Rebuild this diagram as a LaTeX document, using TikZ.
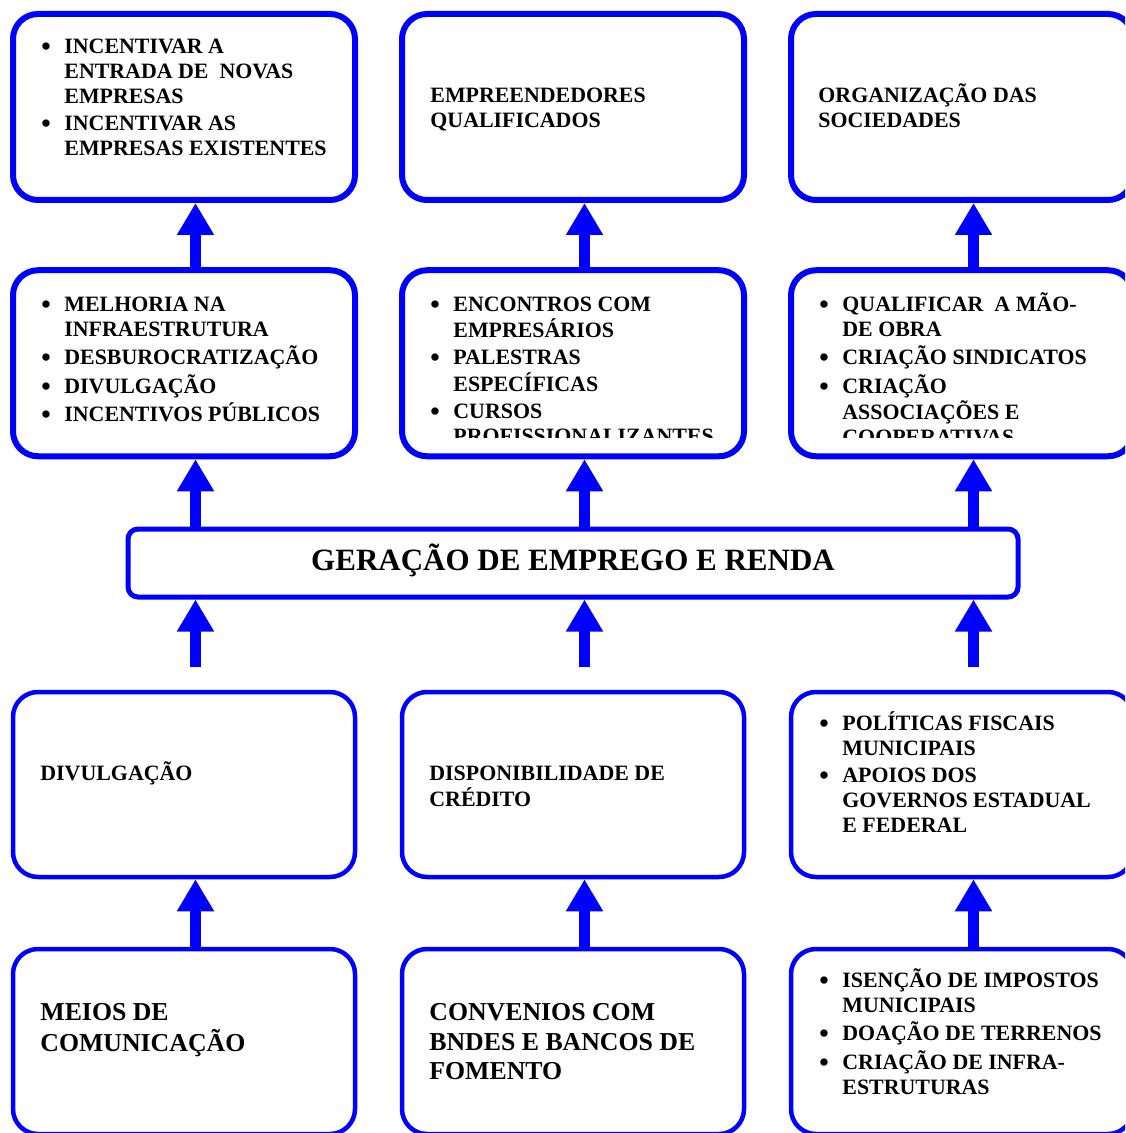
\documentclass[tikz,border=0pt]{standalone}
\usepackage{fontspec}
\setmainfont{Liberation Serif}
\usetikzlibrary{arrows.meta}

\newcommand{\blist}[1]{\begin{tabular}[t]{@{}p{11.5pt}@{}l@{}}#1\end{tabular}}
\newcommand{\tlines}[1]{\begin{tabular}[t]{@{}l@{}}#1\end{tabular}}
\newcommand{\bu}{\raisebox{-1pt}{\fontsize{13.5}{12.5}\selectfont\textbullet}}

\tikzset{
  box/.style={draw=blue,line width=3pt,rounded corners=12.5pt,minimum width=171pt,minimum height=93pt,inner sep=0pt},
  lbox/.style={box,line width=2.25pt,minimum height=92.5pt},
  arr/.style={draw=blue,line width=5.25pt,-{Triangle[width=17.5pt,length=16pt]}},
  txt/.style={anchor=base west,inner sep=0pt,font=\fontsize{10.95}{12.5}\selectfont\bfseries},
  bigtxt/.style={txt,font=\fontsize{12.9}{14.75}\selectfont\bfseries}
}

\begin{document}
\begin{tikzpicture}[x=0.5pt,y=-0.5pt]
\clip (0,0) rectangle (1125,1133);
\fill[white] (0,0) rectangle (1125,1133);

% boxes
\node[box] (b11) at (184,107) {};
\node[box] (b12) at (573,107) {};
\node[box] (b13) at (962,107) {};
\node[box] (b21) at (184,363.25) {};
\node[box] (b22) at (573,363.25) {};
\node[box] (b23) at (962,363.25) {};
\node[box,line width=2.5pt,rounded corners=5pt,minimum width=445pt,minimum height=34pt] (b0) at (573,563) {};
\node[lbox] (b31) at (184,784.5) {};
\node[lbox] (b32) at (573,784.5) {};
\node[lbox] (b33) at (962,784.5) {};
\node[lbox] (b41) at (184,1041.5) {};
\node[lbox] (b42) at (573,1041.5) {};
\node[lbox] (b43) at (962,1041.5) {};

% texts
\node[txt] (t11) at (41,53.5) {\blist{\bu & INCENTIVAR A\\ & ENTRADA DE~ NOVAS\\ & EMPRESAS\\[1pt]
  \bu & INCENTIVAR AS\\ & EMPRESAS EXISTENTES}};
\node[txt] (t12) at (430,103) {\tlines{EMPREENDEDORES\\QUALIFICADOS}};
\node[txt] (t13) at (818,103) {\tlines{ORGANIZAÇÃO DAS\\SOCIEDADES}};
\node[txt] (t21) at (41,311.5) {\blist{\bu & MELHORIA NA\\ & INFRAESTRUTURA\\[1pt]
  \bu & DESBUROCRATIZAÇÃO\\[1pt] \bu & DIVULGAÇÃO\\[1pt] \bu & INCENTIVOS PÚBLICOS}};
\begin{scope}
\clip (402,270) rectangle (1133,437);
\node[txt] (t22) at (430,311.5) {\blist{\bu & ENCONTROS COM\\ & EMPRESÁRIOS\\[1pt]
  \bu & PALESTRAS\\ & ESPECÍFICAS\\[1pt] \bu & CURSOS\\ & PROFISSIONALIZANTES}};
\node[txt] (t23) at (819,311.5) {\blist{\bu & QUALIFICAR~ A MÃO-\\ & DE OBRA\\[1pt]
  \bu & CRIAÇÃO SINDICATOS\\[1pt] \bu & CRIAÇÃO\\ & ASSOCIAÇÕES E\\ & COOPERATIVAS}};
\end{scope}
\node[anchor=base,inner sep=0pt,font=\fontsize{15.5}{18}\selectfont\bfseries] (t0) at (573,570.5) {GERAÇÃO DE EMPREGO E RENDA};
\node[txt] (t31) at (40,780) {\tlines{DIVULGAÇÃO}};
\node[txt] (t32) at (429,780) {\tlines{DISPONIBILIDADE DE\\CRÉDITO}};
\node[txt] (t33) at (819,730.5) {\blist{\bu & POLÍTICAS FISCAIS\\ & MUNICIPAIS\\[1pt]
  \bu & APOIOS DOS\\ & GOVERNOS ESTADUAL\\ & E FEDERAL}};
\node[bigtxt] (t41) at (40,1020) {\tlines{MEIOS DE\\COMUNICAÇÃO}};
\node[bigtxt] (t42) at (429,1020.5) {\tlines{CONVENIOS COM\\BNDES E BANCOS DE\\FOMENTO}};
\node[txt] (t43) at (819,987.5) {\blist{\bu & ISENÇÃO DE IMPOSTOS\\ & MUNICIPAIS\\[1pt]
  \bu & DOAÇÃO DE TERRENOS\\[1pt] \bu & CRIAÇÃO DE INFRA-\\ & ESTRUTURAS}};

% arrows
\coordinate (c1) at (195.5,667);
\coordinate (c2) at (584.5,667);
\coordinate (c3) at (973.5,667);
\draw[arr] (b21.north -| c1) -- (b11.south -| c1);
\draw[arr] (b22.north -| c2) -- (b12.south -| c2);
\draw[arr] (b23.north -| c3) -- (b13.south -| c3);
\draw[arr] (b0.north -| c1) -- (b21.south -| c1);
\draw[arr] (b0.north -| c2) -- (b22.south -| c2);
\draw[arr] (b0.north -| c3) -- (b23.south -| c3);
\draw[arr] (c1) -- (b0.south -| c1);
\draw[arr] (c2) -- (b0.south -| c2);
\draw[arr] (c3) -- (b0.south -| c3);
\draw[arr] (b41.north -| c1) -- (b31.south -| c1);
\draw[arr] (b42.north -| c2) -- (b32.south -| c2);
\draw[arr] (b43.north -| c3) -- (b33.south -| c3);
\end{tikzpicture}
\end{document}
